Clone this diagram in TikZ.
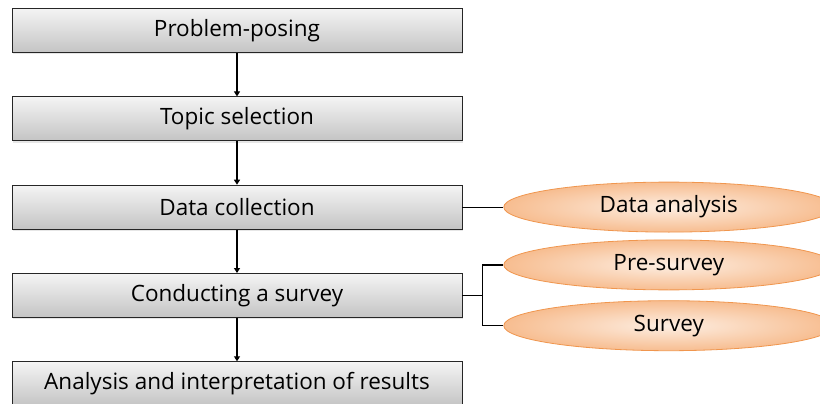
\documentclass[tikz,border=0pt]{standalone}
\usepackage{fontspec}
\setmainfont{Open Sans}
\usetikzlibrary{arrows.meta,positioning,shapes.geometric,shadows}
\definecolor{boxtop}{HTML}{F4F4F4}
\definecolor{boxbot}{HTML}{C4C4C4}
\definecolor{peachin}{HTML}{FDEEE2}
\definecolor{peachout}{HTML}{F7BD90}
\definecolor{peachline}{HTML}{F0964E}

\begin{document}
\begin{tikzpicture}[
    font=\fontsize{22.5}{26}\selectfont,
    node distance=43.5pt,
    stage/.style={draw=black!85, line width=0.8pt, minimum width=450pt, minimum height=44pt, top color=boxtop, bottom color=boxbot, drop shadow={opacity=0.2, shadow xshift=0.5pt, shadow yshift=-2pt}},
    branch/.style={ellipse, draw=peachline, line width=0.8pt, minimum width=330pt, minimum height=50pt, inner color=peachin, outer color=peachout},
    arrow/.style={-{Triangle[length=5pt,width=6pt]}, line width=1.2pt},
    link/.style={line width=1.2pt}
]
\useasboundingbox (0,0) rectangle (820pt,-404pt);

\node[stage] (posing) at (237pt,-30.5pt) {Problem-posing};
\node[stage, below=of posing] (topic) {Topic selection};
\node[stage, below=of topic] (collect) {Data collection};
\node[stage, below=of collect] (conduct) {Conducting a survey};
\node[stage, below=of conduct] (results) {Analysis and interpretation of results};

\draw[arrow] (posing) -- (topic);
\draw[arrow] (topic) -- (collect);
\draw[arrow] (collect) -- (conduct);
\draw[arrow] (conduct) -- (results);

\node[branch, right=41pt of collect] (analysis) {Data analysis};
\node[branch, below=7pt of analysis] (pre) {Pre-survey};
\node[branch, below=10pt of pre] (survey) {Survey};

\draw[link] (collect) -- (analysis);
\draw[link] (conduct.east) -- ++(20pt,0) coordinate (fork);
\draw[link] (fork) |- (pre.west);
\draw[link] (fork) |- (survey.west);
\end{tikzpicture}
\end{document}
